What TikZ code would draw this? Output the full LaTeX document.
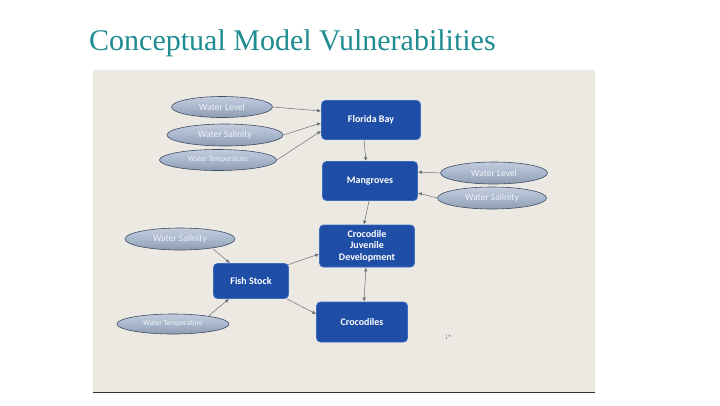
\documentclass[tikz,border=0pt]{standalone}
\usepackage{fontspec}
\setmainfont{Liberation Serif}
\newfontfamily\calib{Carlito}
\usetikzlibrary{arrows.meta,shapes.geometric}
\definecolor{titleteal}{HTML}{1E8C90}
\definecolor{photobg}{HTML}{ECE9E3}
\definecolor{boxblue}{HTML}{1F4EA6}
\definecolor{boxedge}{HTML}{3C6CC2}
\definecolor{ellfill}{HTML}{A9B7CE}
\definecolor{elledge}{HTML}{3E4C66}
\definecolor{arrowgrey}{HTML}{6A6E78}
\tikzset{
  blubox/.style={draw=boxedge, line width=0.8pt, fill=boxblue, rounded corners=4pt,
    text=white, font=\calib\bfseries\fontsize{10}{11.5}\selectfont, align=center,
    inner sep=0pt},
  ell/.style={ellipse, draw=elledge, line width=0.6pt, top color=ellfill!70!white,
    bottom color=ellfill!85!black, middle color=ellfill, text=white!95!black,
    font=\calib\fontsize{9.5}{11}\selectfont, inner sep=0pt},
  smallell/.style={font=\calib\fontsize{7.5}{9}\selectfont},
  conn/.style={draw=arrowgrey, line width=0.5pt, -{Latex[length=4pt,width=3.5pt]}},
}
\begin{document}
\begin{tikzpicture}[x=1pt,y=-1pt]
\useasboundingbox (0,0) rectangle (720,405);
\fill[white] (0,0) rectangle (720,405);
% photo area
\fill[photobg] (93,70) rectangle (595,392);
\draw[black!80, line width=1pt] (93,392) -- (595,392);
% title
\node[anchor=base west, text=titleteal, font=\fontsize{30}{34}\selectfont, inner sep=0pt] (title) at (89,50) {Conceptual Model Vulnerabilities};
% boxes
\node[blubox, minimum width=99pt, minimum height=39pt] (fb) at (371,120) {Florida Bay};
\node[blubox, minimum width=95pt, minimum height=39pt] (mg) at (370,181) {Mangroves};
\node[blubox, minimum width=95pt, minimum height=42pt] (cjd) at (367,246) {Crocodile\\Juvenile\\Development};
\node[blubox, minimum width=75pt, minimum height=35pt] (fs) at (251,281) {Fish Stock};
\node[blubox, minimum width=91pt, minimum height=40pt] (cr) at (362,322) {Crocodiles};
% ellipses
\node[ell, minimum width=101pt, minimum height=21pt] (wl1) at (222,107) {Water Level};
\node[ell, minimum width=116pt, minimum height=22pt] (ws1) at (225,135) {Water Salinity};
\node[ell, smallell, minimum width=117pt, minimum height=21pt] (wt1) at (218,160) {Water Temperature};
\node[ell, minimum width=107pt, minimum height=22pt] (wl2) at (494,173) {Water Level};
\node[ell, minimum width=109pt, minimum height=22pt] (ws2) at (492,198) {Water Salinity};
\node[ell, minimum width=110pt, minimum height=22pt] (ws3) at (180,239) {Water Salinity};
\node[ell, smallell, minimum width=112pt, minimum height=20pt] (wt2) at (173,324) {Water Temperature};
% stray mark
\node[text=black!45, font=\fontsize{7}{8}\selectfont, inner sep=0pt] (mark) at (448,337) {1*};
% connectors
\draw[conn] (wl1.east) -- (fb.west |- 0,111);
\draw[conn] (ws1.east) -- (fb.west |- 0,123);
\draw[conn] (wt1.east) -- (fb.west |- 0,131);
\draw[conn] (fb.south -| 364,0) -- (mg.north -| 366,0);
\draw[conn] (wl2.west) -- (mg.east |- 0,172);
\draw[conn] (ws2.west) -- (mg.east |- 0,193);
\draw[conn] (mg.south -| 369,0) -- (cjd.north -| 364,0);
\draw[conn] (ws3.south east) ++(-6,2) -- (fs.north -| 230,0);
\draw[conn] (wt2.north east) ++(-4,-1) -- (fs.south -| 229,0);
\draw[conn] (fs.north east) ++(-2,2) -- (cjd.west |- 0,254);
\draw[conn] (fs.south east) ++(-2,0) -- (cr.west |- 0,314);
\draw[conn, {Latex[length=4pt,width=3.5pt]}-{Latex[length=4pt,width=3.5pt]}] (cr.north -| 364,0) -- (cjd.south -| 366,0);
\end{tikzpicture}
\end{document}
